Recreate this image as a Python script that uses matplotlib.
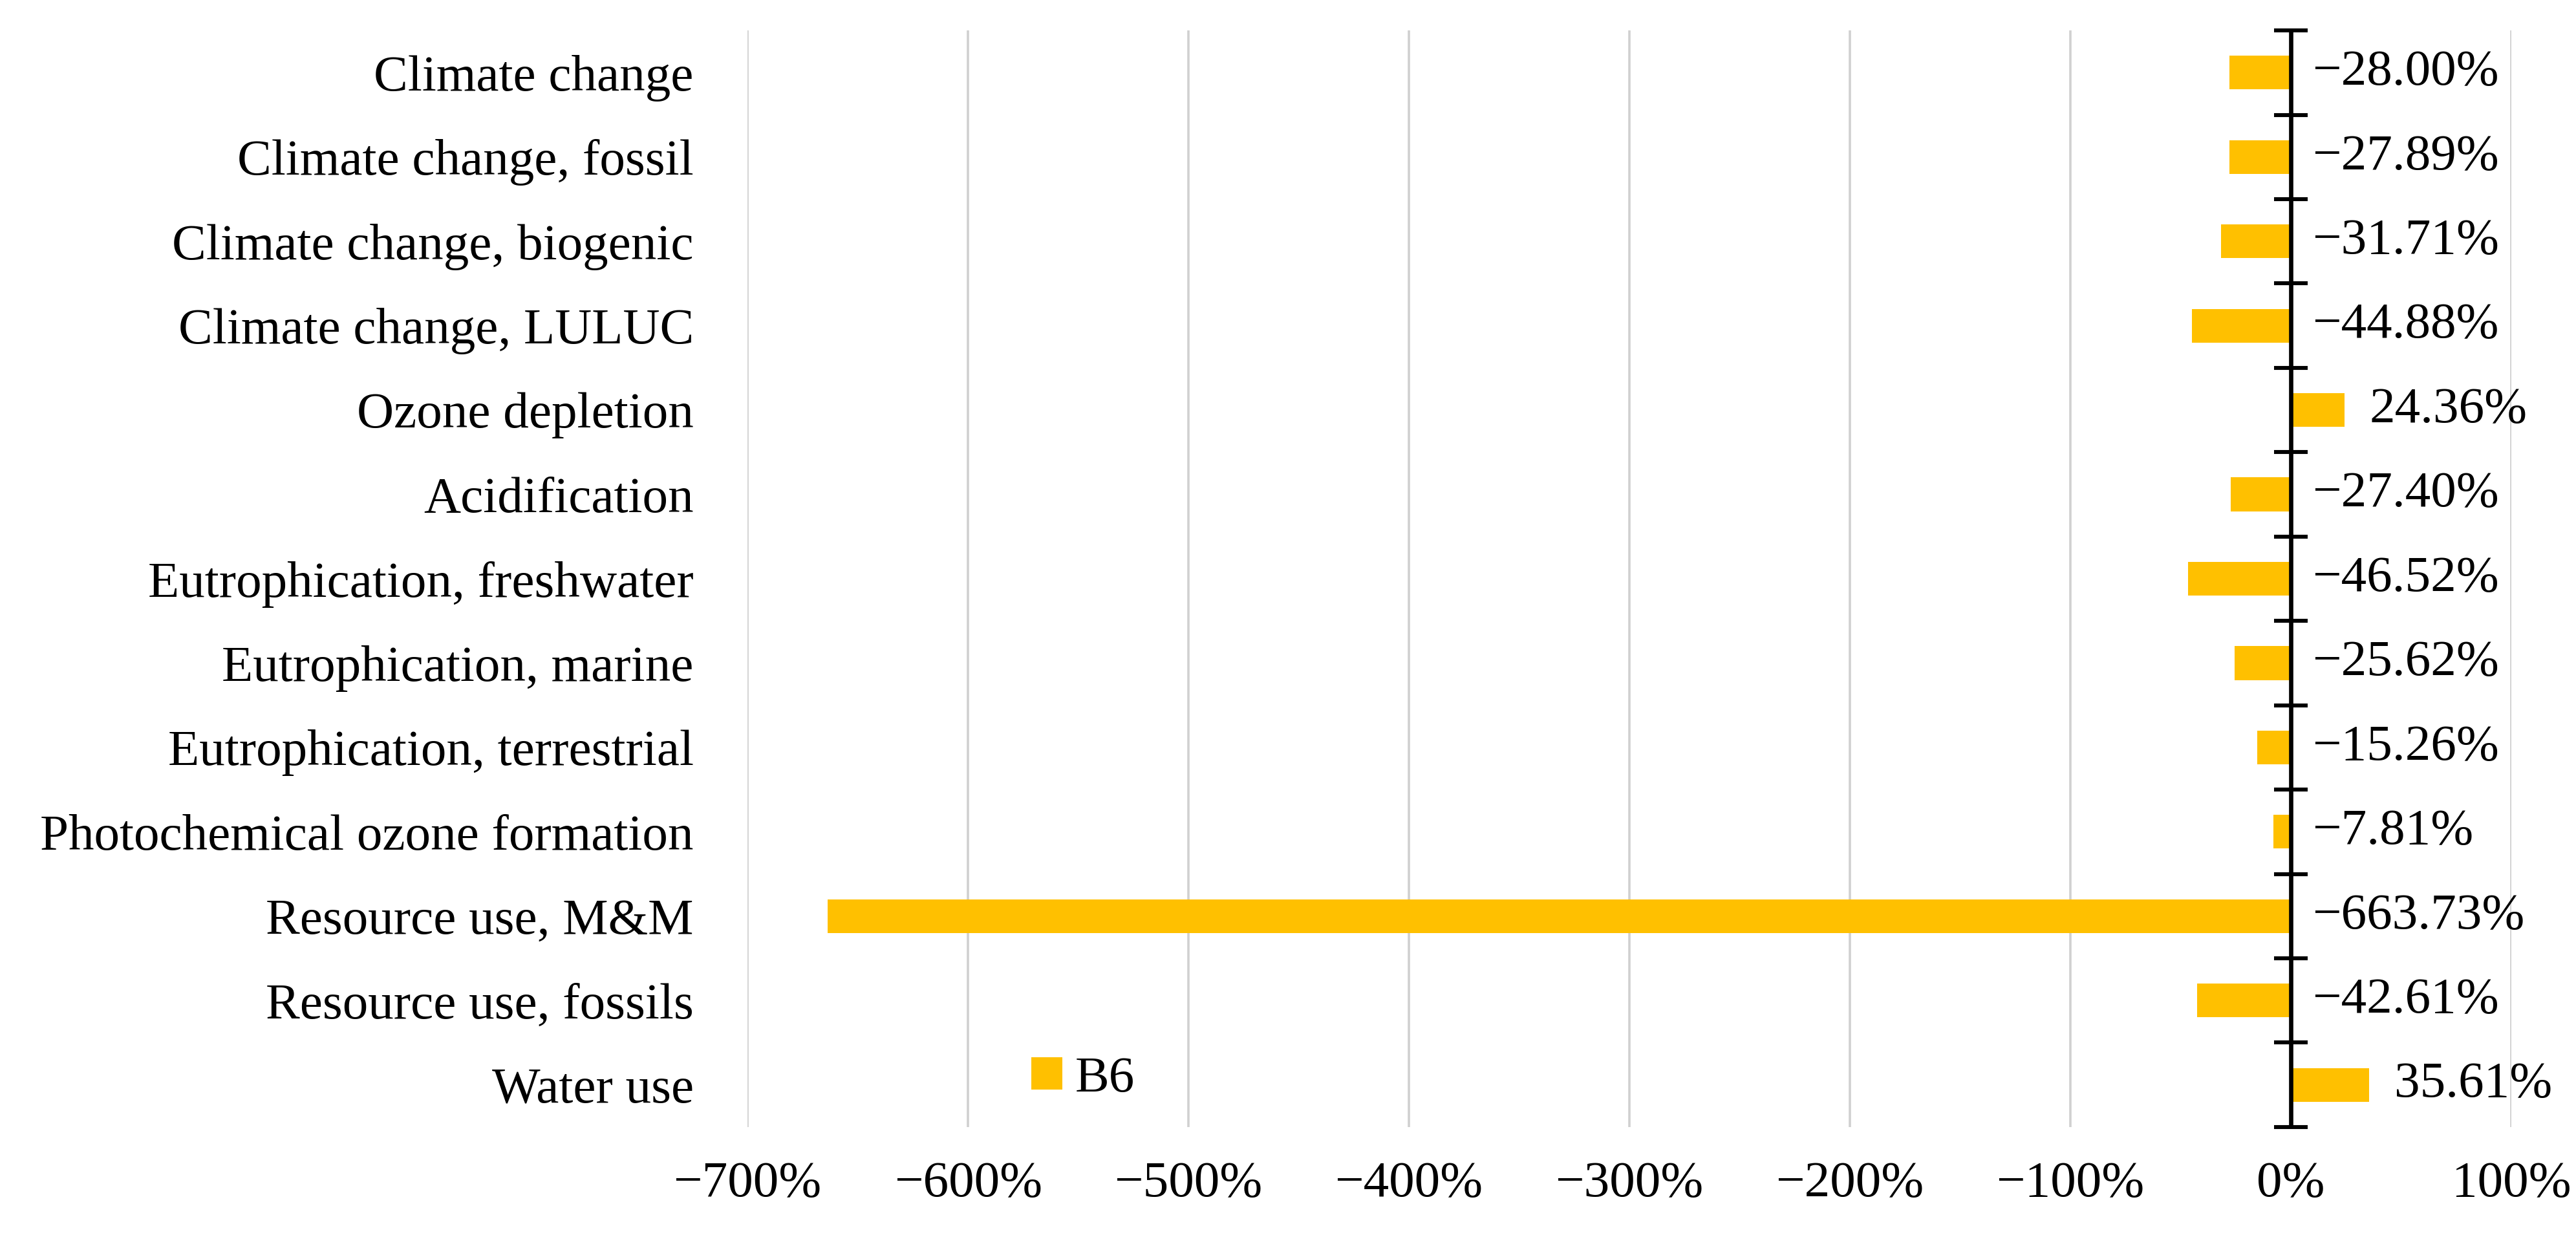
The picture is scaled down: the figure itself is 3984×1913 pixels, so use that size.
import matplotlib
matplotlib.use("Agg")
import matplotlib.pyplot as plt

categories = [
    "Climate change",
    "Climate change, fossil",
    "Climate change, biogenic",
    "Climate change, LULUC",
    "Ozone depletion",
    "Acidification",
    "Eutrophication, freshwater",
    "Eutrophication, marine",
    "Eutrophication, terrestrial",
    "Photochemical ozone formation",
    "Resource use, M&M",
    "Resource use, fossils",
    "Water use",
]
b6 = [-28.00, -27.89, -31.71, -44.88, 24.36, -27.40, -46.52,
      -25.62, -15.26, -7.81, -663.73, -42.61, 35.61]
x_ticks = [-700, -600, -500, -400, -300, -200, -100, 0, 100]

BAR_COLOR = "#FFC000"
FONT = "Liberation Serif"
FS = 28.5

plt.rcParams["font.family"] = [FONT, "DejaVu Serif"]


def pct(v, fmt="{:.2f}%"):
    return fmt.format(v).replace("-", "\u2212")


fig = plt.figure(figsize=(19.92, 9.565), dpi=200)
ax = fig.add_axes([0.2902, 0.0889, 0.6847, 0.8865])

ypos = list(range(len(categories)))
ax.barh(ypos, b6, height=0.4, color=BAR_COLOR, label="B6", zorder=2)

ax.set_xlim(-700, 100)
ax.set_ylim(-0.5, len(categories) - 0.5)
ax.invert_yaxis()

ax.set_xticks(x_ticks)
ax.set_xticklabels([pct(t, "{:.0f}%") for t in x_ticks], fontsize=FS)
ax.set_yticks(ypos)
ax.set_yticklabels(categories, fontsize=FS)
ax.tick_params(axis="y", length=0, pad=30)
ax.tick_params(axis="x", length=0, pad=19)

ax.grid(axis="x", color="#D0D0D0", linewidth=1.3, zorder=0)
ax.set_axisbelow(True)
for s in ax.spines.values():
    s.set_visible(False)

# zero line with Excel-style crossing ticks at category boundaries
ax.axvline(0, color="black", linewidth=2.4, zorder=3)
loc = (0 - ax.get_xlim()[0]) / (ax.get_xlim()[1] - ax.get_xlim()[0])
sec = ax.secondary_yaxis(loc)
sec.set_yticks([i - 0.5 for i in range(len(categories) + 1)])
sec.set_yticklabels([])
sec.tick_params(axis="y", direction="inout", length=19, width=2.2, color="black")
for side in sec.spines:
    sec.spines[side].set_visible(False)
sec.set_zorder(3)

for y, v in zip(ypos, b6):
    x0 = max(v, 0)
    off = 14 if v > 0 else 12
    ax.annotate(pct(v), xy=(x0, y), xytext=(off, 0), textcoords="offset points",
                ha="left", va="center", fontsize=FS, zorder=4)

ax.legend(loc="center left", bbox_to_anchor=(0.161, 0.0436), frameon=False,
          fontsize=FS, handlelength=0.6, handleheight=0.6, handletextpad=0.25,
          borderpad=0, borderaxespad=0)

fig.savefig("out.png", dpi=200)
